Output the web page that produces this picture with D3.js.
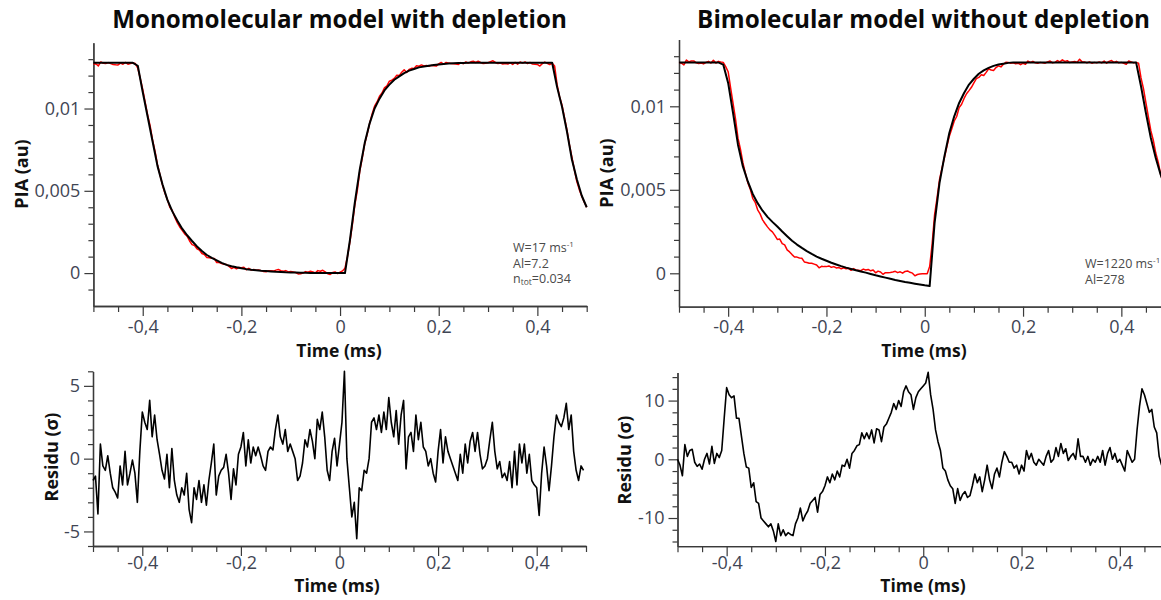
<!DOCTYPE html>
<html><head><meta charset="utf-8">
<script src="https://cdn.jsdelivr.net/npm/d3@7"></script>
<style>
body{margin:0;background:#fff}
svg{display:block;font-family:"Open Sans",sans-serif}
</style>
</head><body>
<svg id="c" width="1161" height="600"></svg>
<script>
// ---------------- DATA ----------------
// sampling grids (ms)
const fitStep = 0.01, dataStep = 0.005, tStart = -0.5;
const fitTime = d3.range(101).map(i => +(tStart + i*fitStep).toFixed(3));
const dataTime = d3.range(201).map(i => +(tStart + i*dataStep).toFixed(3));

// PIA values in units of 1e-3 au
const leftFit = [
12.78,12.78,12.78,12.78,12.78,12.78,12.78,12.78,12.78,12.6,
11.0,9.5,8.0,6.5,5.4,4.45,3.75,3.2,2.7,2.3,
1.95,1.62,1.34,1.1,0.92,0.77,0.62,0.5,0.42,0.35,
0.29,0.24,0.2,0.17,0.14,0.12,0.1,0.08,0.07,0.05,
0.04,0.03,0.02,0.02,0.01,0.01,0.01,0.0,0.0,0.0,
0.0,0.0,2.0,4.3,6.3,7.9,9.1,10.0,10.6,11.1,
11.45,11.75,11.95,12.15,12.3,12.4,12.5,12.55,12.6,12.65,
12.68,12.71,12.73,12.75,12.76,12.77,12.78,12.78,12.78,12.78,
12.78,12.78,12.78,12.78,12.78,12.78,12.78,12.78,12.78,12.78,
12.78,12.78,12.78,12.78,11.3,10.1,8.6,6.9,5.7,4.7,
4.0];

const leftData = [
12.70,12.72,12.59,12.83,12.75,12.74,12.79,12.73,12.68,12.66,
12.65,12.76,12.69,12.80,12.69,12.73,12.77,12.73,12.45,11.83,
11.16,10.37,9.60,8.95,8.08,7.40,6.57,5.97,5.36,4.85,
4.47,4.00,3.79,3.40,3.07,2.80,2.60,2.38,2.25,1.95,
1.73,1.68,1.48,1.40,1.19,1.13,0.94,0.93,0.90,0.89,
0.64,0.64,0.58,0.53,0.52,0.41,0.28,0.35,0.26,0.34,
0.33,0.35,0.21,0.29,0.18,0.22,0.18,0.19,0.15,0.10,
0.08,0.14,0.14,0.12,0.18,0.22,0.15,0.11,0.15,0.07,
0.09,0.06,0.03,-0.05,-0.04,0.00,0.09,0.05,0.11,0.07,
0.01,0.15,0.11,0.17,0.08,-0.04,-0.08,0.03,0.07,-0.03,
0.05,0.13,0.30,1.00,1.90,2.95,4.15,5.02,6.20,6.99,
7.86,8.45,9.10,9.67,10.14,10.40,10.75,10.94,11.26,11.38,
11.66,11.72,11.83,12.02,12.00,12.20,12.35,12.19,12.38,12.44,
12.43,12.60,12.57,12.65,12.59,12.61,12.57,12.62,12.60,12.58,
12.71,12.80,12.69,12.80,12.76,12.74,12.72,12.70,12.68,12.79,
12.72,12.83,12.76,12.84,12.87,12.80,12.87,12.80,12.74,12.75,
12.78,12.85,12.90,12.80,12.74,12.77,12.71,12.73,12.70,12.77,
12.68,12.80,12.69,12.83,12.76,12.83,12.73,12.80,12.70,12.69,
12.68,12.58,12.73,12.82,12.75,12.67,12.75,12.58,11.45,10.72,
10.20,9.44,8.69,7.80,7.05,6.28,5.56,5.07,4.67,4.31,
4.00];

const rightFit = [
12.63,12.63,12.63,12.63,12.63,12.63,12.63,12.63,12.63,12.5,
11.4,9.6,7.7,6.4,5.5,4.75,4.2,3.75,3.38,3.08,
2.8,2.5,2.22,1.95,1.72,1.52,1.33,1.16,1.0,0.87,
0.75,0.63,0.53,0.43,0.34,0.26,0.18,0.11,0.04,-0.04,
-0.12,-0.19,-0.26,-0.33,-0.4,-0.46,-0.52,-0.57,-0.62,-0.67,
-0.72,-0.76,3.0,5.4,7.0,8.4,9.4,10.2,10.8,11.3,
11.65,11.95,12.15,12.3,12.42,12.5,12.55,12.6,12.63,12.63,
12.63,12.63,12.63,12.63,12.63,12.63,12.63,12.63,12.63,12.63,
12.63,12.63,12.63,12.63,12.63,12.63,12.63,12.63,12.63,12.63,
12.63,12.63,12.63,12.63,11.2,9.6,8.1,6.9,5.9,5.1,
4.5];

const rightData = [
12.63,12.58,12.48,12.77,12.66,12.71,12.72,12.60,12.56,12.59,
12.54,12.63,12.69,12.59,12.75,12.59,12.69,12.65,12.63,12.38,
12.07,11.10,10.18,9.24,8.09,7.44,6.62,6.00,5.43,5.04,
4.49,4.25,3.80,3.56,3.20,2.98,2.78,2.60,2.48,2.27,
2.03,2.05,1.78,1.70,1.40,1.28,1.12,0.98,0.97,0.92,
0.90,0.68,0.65,0.60,0.60,0.55,0.50,0.33,0.42,0.40,
0.40,0.44,0.36,0.40,0.32,0.35,0.27,0.33,0.27,0.30,
0.18,0.28,0.20,0.18,0.16,0.25,0.20,0.23,0.15,0.20,
0.03,0.13,0.08,-0.06,0.04,0.04,0.05,0.08,0.12,0.04,
0.09,0.01,0.11,0.14,0.06,0.01,-0.15,-0.07,-0.04,-0.03,
-0.03,-0.02,0.40,1.75,3.50,4.50,5.60,6.28,6.92,7.59,
8.21,8.65,9.12,9.39,9.92,10.12,10.47,10.75,10.94,11.14,
11.40,11.66,11.73,11.89,11.85,12.03,12.25,12.17,12.15,12.32,
12.42,12.36,12.52,12.64,12.63,12.58,12.60,12.55,12.58,12.49,
12.58,12.52,12.71,12.63,12.69,12.60,12.58,12.63,12.60,12.58,
12.66,12.71,12.60,12.63,12.74,12.66,12.78,12.69,12.73,12.62,
12.66,12.69,12.63,12.82,12.66,12.66,12.60,12.66,12.58,12.63,
12.60,12.66,12.60,12.71,12.58,12.69,12.74,12.63,12.69,12.60,
12.63,12.58,12.52,12.71,12.66,12.60,12.63,12.58,11.70,11.06,
10.20,9.37,8.54,7.97,7.20,6.65,5.93,5.45,5.10,4.80,
4.50];

// residuals (sigma), sampled every 0.005 ms from -0.5
const leftResid = [
-1.5,-1.2,-3.8,1.0,-0.5,-0.8,0.2,-1.0,-2.0,-2.3,
-2.7,-0.5,-1.8,0.5,-1.8,-1.0,-0.1,-1.0,-3.0,0.5,
3.2,2.5,2.0,4.0,1.5,3.0,1.3,0.3,-0.8,-1.4,
0.3,-2.0,0.7,-1.5,-2.5,-3.0,-2.0,-2.5,-1.0,-3.5,
-4.4,-2.0,-2.8,-1.5,-3.0,-1.8,-3.2,-1.5,-0.3,1.0,
-2.5,-1.2,-0.8,-0.6,0.3,-1.0,-2.8,-0.7,-1.8,0.3,
0.8,1.8,-0.5,1.3,-0.3,0.8,0.2,0.8,0.2,-0.5,
-0.8,0.5,0.8,0.6,2.0,3.0,1.5,1.0,2.0,0.5,
1.0,0.5,0.0,-1.5,-1.2,-0.3,1.3,0.8,2.0,1.2,
0.0,2.7,2.0,3.2,1.5,-0.8,-1.5,0.5,1.4,-0.5,
1.0,2.5,6.0,0.0,-2.0,-4.0,-3.0,-5.5,-2.0,-2.2,
-0.8,-1.0,0.0,2.5,2.8,2.0,3.0,1.8,3.2,2.0,
4.2,2.5,1.5,3.3,1.0,3.0,4.0,-0.7,1.5,1.8,
0.5,3.0,1.3,2.5,0.8,0.5,-0.5,0.0,-1.0,-1.6,
0.5,2.0,-0.3,1.5,0.5,0.0,-0.5,-1.0,-1.5,0.3,
-1.0,1.0,-0.3,1.2,1.8,0.5,1.8,0.3,-0.7,-0.5,
0.0,1.3,2.5,0.5,-0.7,-0.2,-1.3,-1.0,-1.5,-0.2,
-2.0,0.5,-1.8,1.0,-0.3,1.0,-1.0,0.3,-1.5,-1.8,
-2.0,-3.9,-1.0,0.8,-0.5,-2.2,-0.5,1.5,3.0,2.5,
2.2,2.8,3.8,2.0,3.0,0.5,-0.8,-1.5,-0.5,-0.8];

const rightResid = [
0.0,-1.0,-2.8,2.5,0.5,1.5,1.7,-0.5,-1.2,-0.8,
-1.7,0.0,1.0,-0.8,2.2,-0.7,1.0,0.3,1.5,7.0,
12.2,11.0,10.5,10.8,7.0,7.0,4.0,1.0,-1.3,-1.5,
-4.8,-4.0,-7.2,-7.5,-10.0,-10.5,-11.0,-11.5,-11.0,-12.2,
-14.0,-11.0,-13.0,-12.0,-13.0,-12.5,-12.8,-13.0,-11.0,-10.0,
-8.3,-10.5,-9.5,-8.8,-7.5,-7.0,-6.5,-9.0,-6.0,-5.5,
-4.5,-3.0,-4.0,-2.5,-3.5,-2.0,-3.0,-1.0,-1.2,0.0,
-1.5,1.0,1.5,2.3,2.5,4.5,3.5,4.5,3.5,5.0,
2.8,5.2,5.0,3.0,5.5,6.0,7.0,8.0,9.5,8.5,
10.0,9.0,11.5,12.5,11.5,11.0,8.5,10.5,11.5,12.0,
12.5,13.0,14.8,11.0,8.5,5.0,3.0,1.5,-1.5,-2.0,
-3.5,-4.5,-5.0,-7.5,-5.0,-7.0,-6.0,-5.5,-6.5,-6.2,
-4.5,-2.5,-4.0,-3.0,-5.5,-3.5,-1.0,-3.5,-5.0,-2.5,
-1.5,-3.0,-0.5,1.3,0.5,-0.5,-0.5,-1.5,-1.0,-2.5,
-1.0,-2.0,1.5,0.0,1.0,-0.5,-1.0,0.0,-0.5,-1.0,
0.5,1.5,-0.5,0.0,2.0,0.5,2.7,1.0,1.8,-0.2,
0.5,1.0,0.0,3.5,0.5,0.5,-0.5,0.5,-1.0,0.0,
-0.5,0.5,-0.5,1.5,-1.0,1.0,2.0,0.0,1.0,-0.5,
0.0,-1.0,-2.0,1.5,0.5,-0.5,0.0,5.0,9.0,12.0,
11.0,9.5,8.0,8.5,5.5,4.5,0.5,-1.0];

// ticks
const timeMajor = [-0.4,-0.2,0,0.2,0.4];
const timeMinor = [-0.5,-0.45,-0.35,-0.3,-0.25,-0.15,-0.1,-0.05,0.05,0.1,0.15,0.25,0.3,0.35,0.45,0.5];
const piaMajor = [0,0.005,0.01];
const piaMinor = [-0.001,0.001,0.002,0.003,0.004,0.006,0.007,0.008,0.009,0.011,0.012,0.013];
const resLeftMajor = [-5,0,5];
const resLeftMinor = [-6,-4,-3,-2,-1,1,2,3,4,6];
const resRightMajor = [-10,0,10];
const resRightMinor = [-14,-12,-8,-6,-4,-2,2,4,6,8,12,14];

const titles = ["Monomolecular model with depletion","Bimolecular model without depletion"];

// ---------------- DRAW ----------------
const svg = d3.select("#c");
const loc = d3.formatLocale({decimal:",",thousands:".",grouping:[3],currency:["","€"],minus:"-"});
const fmt = loc.format("~g");
const AXC = "#3a3a3a", TXC = "#3f4554";

function styleAxis(sel){
  sel.selectAll("line").attr("stroke",AXC).attr("stroke-width",1.2);
  sel.selectAll("path.domain").attr("stroke",AXC).attr("stroke-width",1.3);
  sel.selectAll("text").attr("fill",TXC).attr("font-size",18).attr("font-family","'Open Sans',sans-serif");
}

function panel(o){
  const x = d3.scaleLinear().domain([-0.5,0.5]).range(o.xr);
  const y = d3.scaleLinear().domain(o.yd).range(o.yr);
  const g = svg.append("g");
  const yb = o.yr[0];
  // x axis
  g.append("g").attr("transform",`translate(0,${yb})`)
    .call(d3.axisBottom(x).tickValues(timeMinor).tickSize(6).tickSizeOuter(0).tickFormat(""))
    .call(styleAxis);
  g.append("g").attr("transform",`translate(0,${yb})`)
    .call(d3.axisBottom(x).tickValues(timeMajor).tickSize(10).tickSizeOuter(0).tickPadding(o.xpad).tickFormat(fmt))
    .call(styleAxis);
  // y axis
  const xl = o.xr[0];
  g.append("g").attr("transform",`translate(${xl},0)`)
    .call(d3.axisLeft(y).tickValues(o.yMinor).tickSize(5).tickSizeOuter(0).tickFormat(""))
    .call(styleAxis);
  g.append("g").attr("transform",`translate(${xl},0)`)
    .call(d3.axisLeft(y).tickValues(o.yMajor).tickSize(9).tickSizeOuter(0).tickPadding(4).tickFormat(fmt))
    .call(styleAxis);
  // lines
  o.lines.forEach(l=>{
    g.append("path").datum(l.values)
      .attr("fill","none").attr("stroke",l.color).attr("stroke-width",l.w)
      .attr("stroke-linejoin","round")
      .attr("d", d3.line().x((d,i)=>x(l.time[i])).y(d=>y(d*l.k)));
  });
  // axis titles
  g.append("text").attr("x",o.xt[0]).attr("y",o.xt[1]).attr("text-anchor","middle")
    .attr("font-weight","bold").attr("font-size",17.5).attr("fill","#111").text("Time (ms)");
  g.append("text").attr("transform",`translate(${o.yt[0]},${o.yt[1]}) rotate(-90)`).attr("text-anchor","middle")
    .attr("font-weight","bold").attr("font-size",18).attr("fill","#111").text(o.ylab);
  return {x,y,g};
}

panel({xr:[93.4,586.7], yd:[-0.002,0.014], yr:[306,42.7], xpad:4,
  yMajor:piaMajor, yMinor:piaMinor, xt:[339,357], yt:[28,174], ylab:"PIA (au)",
  lines:[{time:dataTime,values:leftData,color:"#ff0000",w:1.5,k:1e-3},
         {time:fitTime,values:leftFit,color:"#000",w:2,k:1e-3}]});
panel({xr:[679,1170.5], yd:[-0.002,0.014], yr:[306.7,39.5], xpad:4,
  yMajor:piaMajor, yMinor:piaMinor, xt:[924,357], yt:[613,173], ylab:"PIA (au)",
  lines:[{time:dataTime,values:rightData,color:"#ff0000",w:1.5,k:1e-3},
         {time:fitTime,values:rightFit,color:"#000",w:2,k:1e-3}]});
panel({xr:[93,586], yd:[-6,6], yr:[546,371.3], xpad:0,
  yMajor:resLeftMajor, yMinor:resLeftMinor, xt:[337,592], yt:[58,457], ylab:"Residu (σ)",
  lines:[{time:dataTime,values:leftResid,color:"#000",w:1.6,k:1}]});
panel({xr:[677.5,1169], yd:[-14.8,14.8], yr:[546.2,372.4], xpad:0,
  yMajor:resRightMajor, yMinor:resRightMinor, xt:[923,592], yt:[631,460], ylab:"Residu (σ)",
  lines:[{time:dataTime,values:rightResid,color:"#000",w:1.6,k:1}]});

// titles, fitted to their measured widths
[[titles[0],339.5,455],[titles[1],923.5,453]].forEach(([t,cx,w])=>{
  const tx = svg.append("text").attr("x",cx).attr("y",28).attr("text-anchor","middle")
    .attr("font-weight","bold").attr("font-size",22).attr("fill","#0a0a0a").text(t);
  const L = tx.node().getComputedTextLength();
  tx.attr("font-size", 22*w/L);
});

// annotations
function annot(xp, yp, rows){
  rows.forEach((r,i)=>{
    const t = svg.append("text").attr("x",xp).attr("y",yp+i*15.5).attr("font-size",12.5).attr("fill","#4a4a4a");
    r.forEach(p=>{
      const s = t.append("tspan").text(p.t);
      if(p.sup){ s.attr("font-size",8).attr("dy",-5); }
      if(p.sub){ s.attr("font-size",8.5).attr("dy",2); }
      if(p.back){ s.attr("dy",p.back); }
    });
  });
}
annot(513,252,[[{t:"W=17 ms"},{t:"-1",sup:1}],[{t:"Al=7.2"}],[{t:"n"},{t:"tot",sub:1},{t:"=0.034",back:-2}]]);
annot(1085,268,[[{t:"W=1220 ms"},{t:"-1",sup:1}],[{t:"Al=278"}]]);
</script>
</body></html>
